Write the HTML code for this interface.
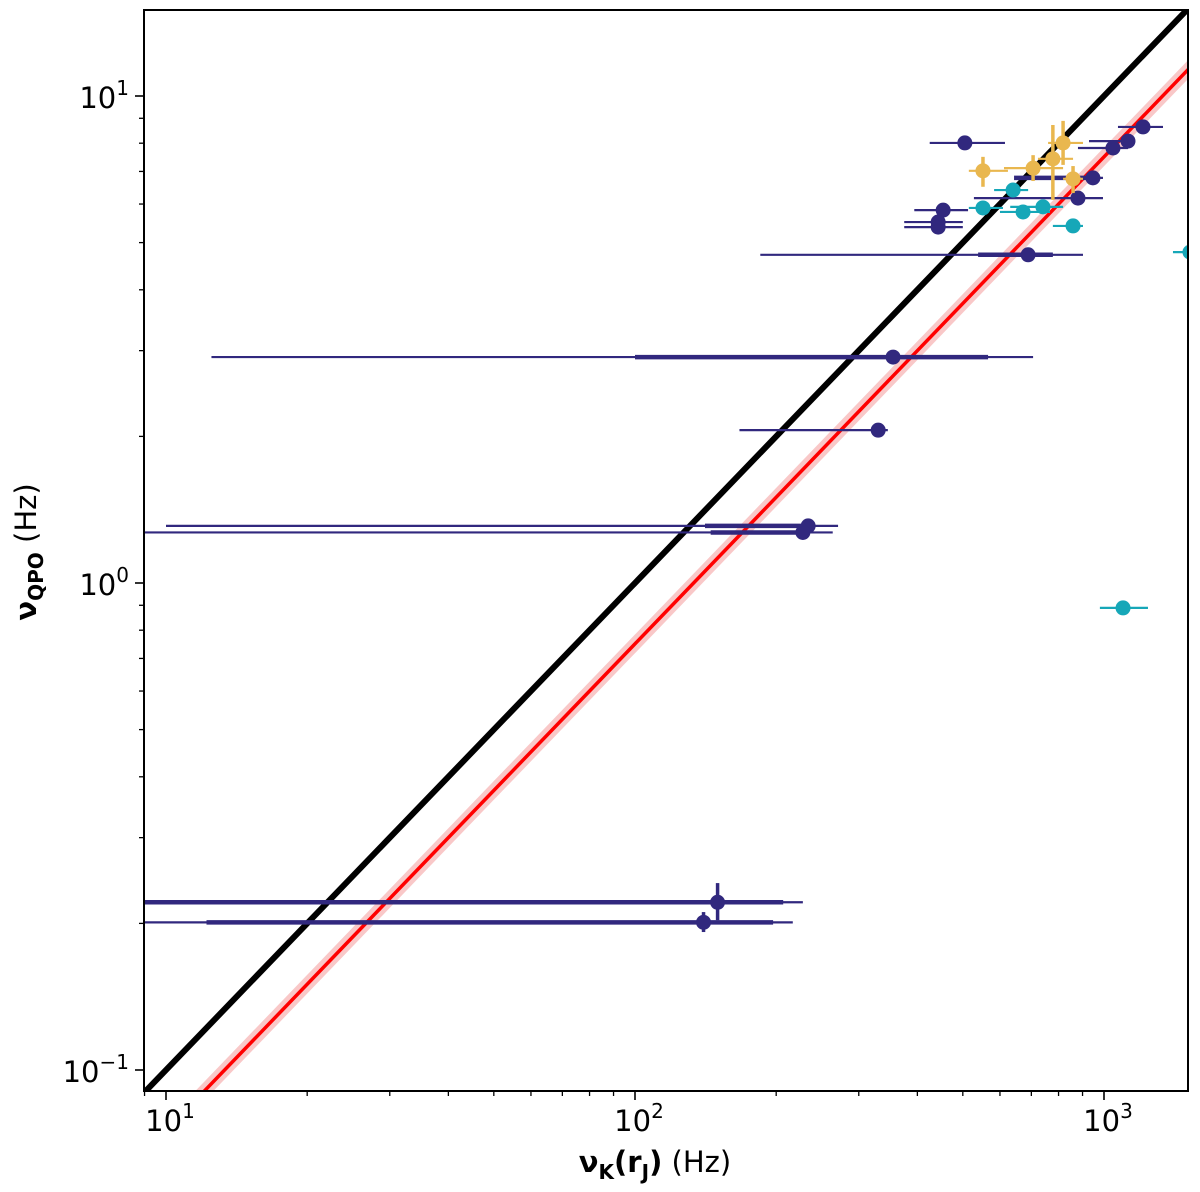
<!DOCTYPE html>
<html><head><meta charset="utf-8">
<style>
body{margin:0;background:#fff;}
svg{display:block;font-family:"DejaVu Sans","Liberation Sans",sans-serif;}
</style></head>
<body>
<svg id="chart" width="1200" height="1192" viewBox="0 0 1200 1192" xmlns="http://www.w3.org/2000/svg">
<defs><clipPath id="clip"><rect x="144" y="10" width="1044" height="1081"/></clipPath></defs>
<g id="plot" clip-path="url(#clip)"></g>
<g id="axes"></g>
<text x="655" y="1172" text-anchor="middle" font-size="29"><tspan font-weight="bold">ν</tspan><tspan font-weight="bold" font-size="20" dy="7">K</tspan><tspan font-weight="bold" dy="-7">(r</tspan><tspan font-weight="bold" font-size="20" dy="7">J</tspan><tspan font-weight="bold" dy="-7">)</tspan> (Hz)</text>
<text transform="translate(36,552) rotate(-90)" text-anchor="middle" font-size="29"><tspan font-weight="bold">ν</tspan><tspan font-weight="bold" font-size="20" dy="7">QPO</tspan><tspan dy="-7"> (Hz)</tspan></text>
</svg>
<script>
// Navy series: x, y, thin x-err lo/hi, thick x-err lo/hi (null = none), y-err lo/hi
const navyX = [505,1211,1125,1045,947,880,454,443,443,689,355,330,234,228,150,140];
const navyY = [8.01,8.64,8.08,7.82,6.79,6.17,5.83,5.51,5.38,4.72,2.91,2.06,1.31,1.27,0.221,0.201];
const navyXlo = [425,1071,929,880,880,528,394,375,375,185,12.5,167,10,8,8,8];
const navyXhi = [615,1336,1125,1125,995,995,513,500,500,902,706,346,271,264,228,217];
const navyTlo = [null,null,null,null,643,null,null,null,null,539,100,null,141,145,8,12.2];
const navyThi = [null,null,null,null,947,null,null,null,null,778,566,null,234,228,207,197];
const navyYlo = [null,null,null,null,null,null,null,null,null,null,null,null,null,null,0.203,0.192];
const navyYhi = [null,null,null,null,null,null,null,null,null,null,null,null,null,null,0.242,0.211];
// Cyan series
const cyanX = [640,552,672,741,859,1525,1098];
const cyanY = [6.41,5.89,5.78,5.92,5.41,4.78,0.889];
const cyanXlo = [583,515,600,631,778,1403,980];
const cyanXhi = [689,609,767,818,902,1650,1241];
// Gold series
const goldX = [552,706,778,818,859];
const goldY = [7.02,7.11,7.43,8.01,6.76];
const goldXlo = [515,612,723,760,818];
const goldXhi = [624,818,859,902,902];
const goldYlo = [6.51,6.69,6.12,7.22,6.32];
const goldYhi = [7.5,7.56,8.72,8.89,7.18];
// Relations: y = k * x
const blackK = 0.01;
const redK = 0.0075;
const xTickVals = [10,100,1000];
const xTickLabels = ["1","2","3"];
const yTickVals = [0.1,1,10];
const yTickLabels = ["−1","0","1"];

const NS="http://www.w3.org/2000/svg";
const L=144,R=1188,T=10,B=1091;
function sx(v){return 166+(Math.log10(v)-1)*469;}
function sy(v){return 96+(1-Math.log10(v))*487;}
const plot=document.getElementById('plot'), axes=document.getElementById('axes');
function mk(tag,attrs,parent){const e=document.createElementNS(NS,tag);for(const k in attrs)e.setAttribute(k,attrs[k]);parent.appendChild(e);return e;}

const xmin=8,xmax=1600;
let e=mk('line',{x1:sx(xmin),y1:sy(redK*xmin),x2:sx(xmax),y2:sy(redK*xmax),stroke:'#f9c8c8','stroke-width':13},plot);


e=mk('line',{x1:sx(xmin),y1:sy(redK*xmin),x2:sx(xmax),y2:sy(redK*xmax),stroke:'#ff0000','stroke-width':3.5},plot);


e=mk('line',{x1:sx(xmin),y1:sy(blackK*xmin),x2:sx(xmax),y2:sy(blackK*xmax),stroke:'#000','stroke-width':6},plot);



function drawSeries(name,color,X,Y,Xlo,Xhi,Tlo,Thi,Ylo,Yhi){
  for(let i=0;i<X.length;i++){
    const g=mk('g',{},plot);
    
    
    const cy=sy(Y[i]);
    mk('line',{x1:sx(Xlo[i]),y1:cy,x2:sx(Xhi[i]),y2:cy,stroke:color,'stroke-width':2.2},g);
    if(Tlo&&Tlo[i]!=null) mk('line',{x1:sx(Tlo[i]),y1:cy,x2:sx(Thi[i]),y2:cy,stroke:color,'stroke-width':4.5},g);
    if(Ylo&&Ylo[i]!=null) mk('line',{x1:sx(X[i]),y1:sy(Ylo[i]),x2:sx(X[i]),y2:sy(Yhi[i]),stroke:color,'stroke-width':3.5},g);
    mk('circle',{cx:sx(X[i]),cy:cy,r:7.5,fill:color},g);
  }
}
drawSeries('navy','#31287e',navyX,navyY,navyXlo,navyXhi,navyTlo,navyThi,navyYlo,navyYhi);
drawSeries('cyan','#16a7b8',cyanX,cyanY,cyanXlo,cyanXhi,null,null,null,null);
drawSeries('gold','#e9b74f',goldX,goldY,goldXlo,goldXhi,null,null,goldYlo,goldYhi);

e=mk('rect',{x:L,y:T,width:R-L,height:B-T,fill:'none',stroke:'#000','stroke-width':2},axes);


for(let d=1;d<=1000;d*=10)for(let m=2;m<=9;m++){const v=d*m,x=sx(v);if(x>L&&x<R)mk('line',{x1:x,y1:B,x2:x,y2:B+5,stroke:'#000','stroke-width':1.3},axes);}
for(let d=0.01;d<=10;d*=10)for(let m=2;m<=9;m++){const v=d*m,y=sy(v);if(y>T&&y<B)mk('line',{x1:L,y1:y,x2:L-5,y2:y,stroke:'#000','stroke-width':1.3},axes);}
xTickVals.forEach((v,i)=>{const x=sx(v);mk('line',{x1:x,y1:B,x2:x,y2:B+9,stroke:'#000','stroke-width':1.6},axes);
  const t=mk('text',{x:x+4,y:B+40,'text-anchor':'middle','font-size':29},axes);
  
  
  t.innerHTML='10<tspan dy="-13" font-size="20">'+xTickLabels[i]+'</tspan>';});
yTickVals.forEach((v,i)=>{const y=sy(v);mk('line',{x1:L,y1:y,x2:L-9,y2:y,stroke:'#000','stroke-width':1.6},axes);
  const t=mk('text',{x:L-15,y:y+12,'text-anchor':'end','font-size':29},axes);
  
  
  t.innerHTML='10<tspan dy="-13" font-size="20">'+yTickLabels[i]+'</tspan>';});
</script>
</body></html>
